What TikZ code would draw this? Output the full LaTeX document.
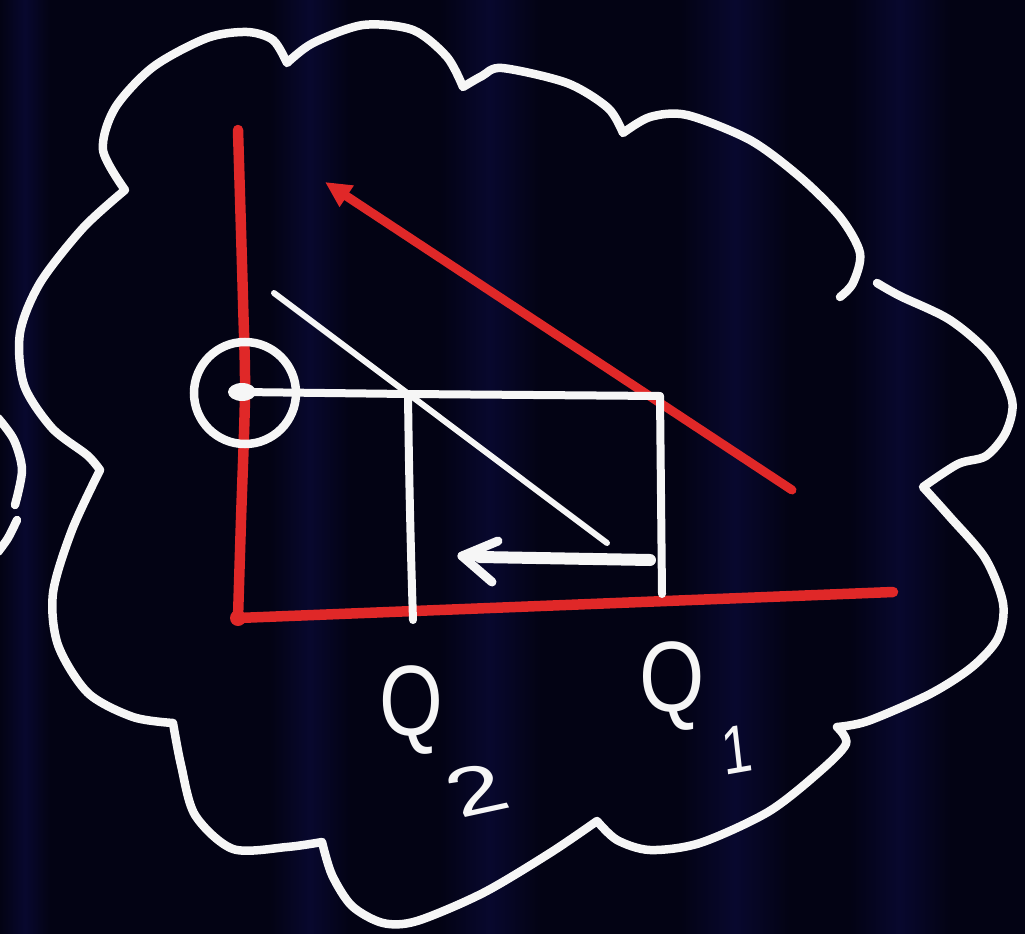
\documentclass[tikz,border=0pt]{standalone}
\usepackage{fontspec}
\setmainfont{Liberation Sans}
\usetikzlibrary{arrows.meta}
\definecolor{bg}{RGB}{3,3,20}
\definecolor{band}{RGB}{8,8,46}
\definecolor{chalkred}{RGB}{224,40,40}
\definecolor{chalk}{RGB}{246,246,246}
\tikzset{
  cloudline/.style={draw=chalk, line width=8.5pt, line cap=round, line join=round},
  redline/.style={draw=chalkred, line width=10.5pt, line cap=round},
  whiteline/.style={draw=chalk, line width=8pt, line cap=round, line join=round},
  thinwhite/.style={draw=chalk, line width=6pt, line cap=round},
  handlabel/.style={text=chalk, inner sep=0pt, font=\fontsize{100}{100}\selectfont},
  handsub/.style={text=chalk, inner sep=0pt, font=\fontsize{68}{68}\selectfont},
  bandshade/.style={left color=bg, right color=bg, middle color=band}
}
\begin{document}
\begin{tikzpicture}[x=1pt,y=-1pt]
% background
\fill[bg] (0,0) rectangle (1025,934);
\shade[bandshade] (0,0) rectangle (50,934);
\shade[bandshade] (270,0) rectangle (350,934);
\shade[bandshade] (440,0) rectangle (540,934);
\shade[bandshade] (680,0) rectangle (790,934);
\shade[bandshade] (850,0) rectangle (950,934);
\useasboundingbox (0,0) rectangle (1025,934);

% cloud outline
\draw[cloudline]
  plot[smooth] coordinates {(877,283) (900,296) (950,320) (990,355) (1012,400) (1006,432) (986,456) (958,464) (923,487)}
  -- plot[smooth] coordinates {(923,487) (950,517) (985,558) (1003,603) (998,638) (972,667) (930,694) (868,721) (837,727)}
  -- plot[smooth] coordinates {(837,727) (846,744) (818,773) (768,812) (700,843) (650,850) (617,840) (597,821)}
  -- plot[smooth] coordinates {(597,821) (550,853) (483,893) (417,921) (383,923) (352,906) (332,875) (322,842)}
  -- plot[smooth] coordinates {(322,842) (287,847) (233,849) (195,815) (181,765) (173,723)}
  -- plot[smooth] coordinates {(173,723) (133,717) (88,693) (58,645) (53,593) (72,530) (100,470)}
  -- plot[smooth] coordinates {(100,470) (87,455) (52,428) (24,385) (20,333) (40,283) (83,228) (125,190)}
  -- plot[smooth] coordinates {(125,190) (103,150) (115,108) (153,67) (207,38) (247,32) (273,40) (287,63)}
  -- plot[smooth] coordinates {(287,63) (313,43) (363,25) (413,30) (447,57) (463,87)}
  -- plot[smooth] coordinates {(463,87) (482,76) (502,68) (567,83) (608,108) (623,133)}
  -- plot[smooth] coordinates {(623,133) (650,117) (687,115) (750,140) (800,177) (840,217) (860,253) (853,283) (840,297)};
% partial cloud at far left
\draw[cloudline] plot[smooth] coordinates {(-2,418) (14,440) (22,470) (15,505)};
\draw[cloudline] plot[smooth] coordinates {(17,520) (8,538) (-2,552)};

% key points
\coordinate (ytop) at (238,130);
\coordinate (ymid) at (245,393);
\coordinate (orig) at (238,618);
\coordinate (xend) at (893,592);
\coordinate (rtip) at (325,182);
\coordinate (rend) at (792,490);
\coordinate (wtop) at (274,293);
\coordinate (wend) at (607,543);
\coordinate (tl) at (408,394);
\coordinate (tr) at (660,396);
\coordinate (br) at (662,594);
\coordinate (q2foot) at (413,620);
\coordinate (dotc) at (242,392);
\coordinate (arrowtail) at (650,560);
\coordinate (arrowhead) at (462,556);
\coordinate (barbup) at (498,541);
\coordinate (barbdown) at (492,582);

% red axes
\draw[redline] plot[smooth] coordinates {(ytop) (243,300) (ymid) (241,520) (orig)};
\draw[redline] (orig) -- (xend);
\fill[chalkred] (orig) circle (8);
% red budget line with arrow
\draw[chalkred, line width=9pt, line cap=round, -{Triangle[length=26pt,width=24pt]}] (rend) -- (rtip);

% white budget line
\draw[thinwhite] (wtop) -- (wend);

% rectangle
\draw[whiteline] (dotc) -- (tl) -- (tr);
\draw[whiteline] (tr) -- (br);
\draw[whiteline] (tl) .. controls (409,480) and (411,560) .. (q2foot);

% circle and dot
\draw[chalk, line width=8.5pt] (ymid) circle (51);
\fill[chalk] (dotc) ellipse (14 and 9);

% arrow
\draw[chalk, line width=12pt, line cap=round] (arrowtail) -- (480,557);
\draw[whiteline, line width=9pt] (barbup) -- (arrowhead) -- (barbdown);
\draw[chalk, line width=9pt, line cap=round] (arrowhead) -- (490,557);

% labels
\node[handlabel, xscale=0.82] (q2) at (411,710) {Q};
\node[handsub, xscale=1.5, rotate=18] (s2) at (476,790) {2};
\node[handlabel, xscale=0.84] (q1) at (672,686) {Q};
\node[handsub, xscale=0.8, rotate=8] (s1) at (737,750) {1};
\end{tikzpicture}
\end{document}
